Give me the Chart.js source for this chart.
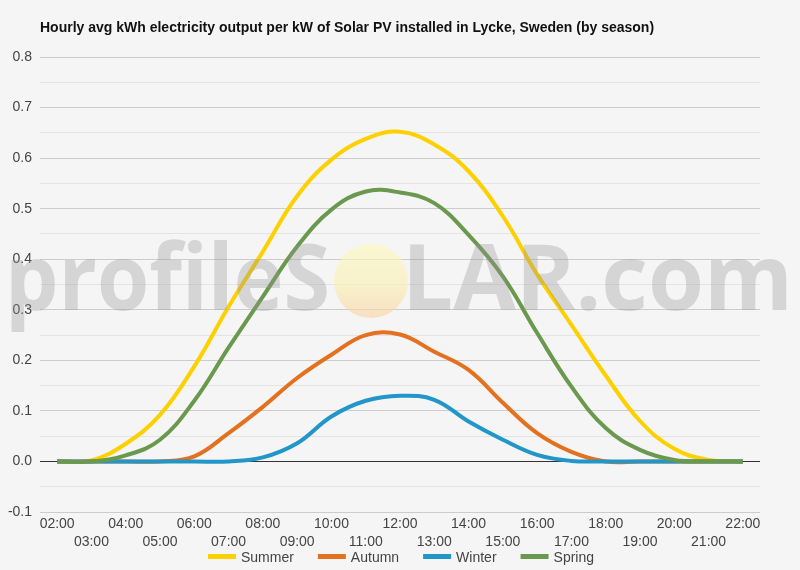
<!DOCTYPE html>
<html>
<head>
<meta charset="utf-8">
<script src="https://cdn.jsdelivr.net/npm/chart.js@4/dist/chart.umd.min.js"></script>
<style>
html,body{margin:0;padding:0;background:#f5f5f5;}
#wrap{width:800px;height:570px;}
</style>
</head>
<body>
<div id="wrap"><canvas id="c" width="800" height="570"></canvas></div>
<script>
const titleText = 'Hourly avg kWh electricity output per kW of Solar PV installed in Lycke, Sweden (by season)';
const hours = ['02:00','03:00','04:00','05:00','06:00','07:00','08:00','09:00','10:00','11:00','12:00','13:00','14:00','15:00','16:00','17:00','18:00','19:00','20:00','21:00','22:00'];
const seriesNames = ['Summer','Autumn','Winter','Spring'];
const seriesColors = ['#fdd000','#e4711f','#2196c8','#6a994e'];
const summer = [0, 0.002, 0.035, 0.092, 0.188, 0.306, 0.415, 0.525, 0.597, 0.638, 0.652, 0.627, 0.574, 0.485, 0.37, 0.27, 0.17, 0.08, 0.025, 0.003, 0];
const autumn = [0, 0, 0, 0, 0.01, 0.056, 0.108, 0.165, 0.211, 0.25, 0.251, 0.217, 0.181, 0.116, 0.056, 0.019, 0, 0, 0, 0, 0];
const winter = [0, 0, 0, 0, 0, 0, 0.008, 0.036, 0.089, 0.12, 0.13, 0.122, 0.079, 0.043, 0.013, 0.001, 0, 0, 0, 0, 0];
const spring = [0, 0, 0.012, 0.043, 0.12, 0.225, 0.326, 0.425, 0.498, 0.534, 0.532, 0.511, 0.448, 0.366, 0.254, 0.148, 0.066, 0.023, 0.003, 0, 0];
const yMin = -0.1, yMax = 0.8, yStep = 0.05;
const watermarkLeft = 'profileS', watermarkRight = 'LAR.com';

const seriesData = [summer, autumn, winter, spring];
const drawOrder = [4, 3, 2, 1];

const bgPlugin = {
  id: 'bg',
  beforeDraw(chart) {
    const ctx = chart.ctx;
    ctx.save();
    ctx.fillStyle = '#f5f5f5';
    ctx.fillRect(0, 0, chart.width, chart.height);
    ctx.restore();
  }
};

const titlePlugin = {
  id: 'customTitle',
  afterDraw(chart) {
    const ctx = chart.ctx;
    ctx.save();
    ctx.font = 'bold 14px "Liberation Sans", Arial, sans-serif';
    ctx.fillStyle = '#111';
    ctx.textBaseline = 'middle';
    ctx.textAlign = 'left';
    ctx.fillText(titleText, chart.chartArea.left, 28);
    ctx.restore();
  }
};

const watermarkPlugin = {
  id: 'watermark',
  afterDatasetsDraw(chart) {
    const ctx = chart.ctx;
    ctx.save();
    ctx.font = 'bold 92px "Open Sans", sans-serif';
    ctx.textBaseline = 'alphabetic';
    ctx.fillStyle = 'rgba(150,150,150,0.33)';
    const baseY = 310;
    let w = ctx.measureText(watermarkLeft).width;
    ctx.save();
    ctx.translate(5, baseY);
    ctx.scale(325 / w, 1);
    ctx.fillText(watermarkLeft, 0, 0);
    ctx.restore();
    w = ctx.measureText(watermarkRight).width;
    ctx.save();
    ctx.translate(402, baseY);
    ctx.scale(391 / w, 1);
    ctx.fillText(watermarkRight, 0, 0);
    ctx.restore();
    const g = ctx.createLinearGradient(0, 243, 0, 318);
    g.addColorStop(0, 'rgba(252,248,190,0.65)');
    g.addColorStop(0.55, 'rgba(250,240,180,0.65)');
    g.addColorStop(1, 'rgba(248,210,160,0.6)');
    ctx.fillStyle = g;
    ctx.beginPath();
    ctx.arc(371, 281, 37, 0, Math.PI * 2);
    ctx.fill();
    ctx.restore();
  }
};

const legendPlugin = {
  id: 'customLegend',
  afterDraw(chart) {
    const ctx = chart.ctx;
    ctx.save();
    ctx.font = '14px "Liberation Sans", Arial, sans-serif';
    const sw = 28, gapText = 5, gapItem = 24;
    const items = chart.data.datasets.map(d => ({label: d.label, color: d.borderColor, tw: ctx.measureText(d.label).width}));
    let total = 0;
    items.forEach((it, i) => { total += sw + gapText + it.tw + (i < items.length - 1 ? gapItem : 0); });
    let x = (chart.width - total) / 2 + 1;
    const y = 557;
    items.forEach(it => {
      ctx.fillStyle = it.color;
      ctx.fillRect(x, y - 3, sw, 5);
      ctx.fillStyle = '#444';
      ctx.textBaseline = 'middle';
      ctx.textAlign = 'left';
      ctx.fillText(it.label, x + sw + gapText, y + 1);
      x += sw + gapText + it.tw + gapItem;
    });
    ctx.restore();
  }
};

const isMajor = v => Math.abs(v * 10 - Math.round(v * 10)) < 1e-6;

new Chart(document.getElementById('c'), {
  type: 'line',
  data: {
    labels: hours,
    datasets: seriesNames.map((name, i) => ({
      label: name,
      data: seriesData[i],
      borderColor: seriesColors[i],
      backgroundColor: seriesColors[i],
      borderWidth: 4,
      pointRadius: 0,
      pointHoverRadius: 0,
      tension: 0.4,
      fill: false,
      order: drawOrder[i]
    }))
  },
  options: {
    responsive: false,
    animation: false,
    devicePixelRatio: 1,
    layout: { padding: { top: 57, bottom: 16, right: 40, left: 0 } },
    plugins: {
      legend: { display: false },
      title: { display: false },
      tooltip: { enabled: false }
    },
    scales: {
      x: {
        type: 'category',
        offset: true,
        grid: { display: false, drawTicks: false },
        border: { display: false },
        ticks: {
          autoSkip: false,
          maxRotation: 0,
          minRotation: 0,
          padding: 3,
          color: '#444',
          font: { family: '"Liberation Sans", Arial, sans-serif', size: 14, lineHeight: 18 / 14 },
          callback: function (value, index) {
            const lab = this.getLabelForValue(value);
            return index % 2 === 0 ? lab : ['', lab];
          }
        }
      },
      y: {
        min: yMin,
        max: yMax,
        afterFit(scale) { scale.width = 40; },
        grid: {
          drawTicks: false,
          lineWidth: 1,
          color: ctx => {
            const v = ctx.tick.value;
            if (Math.abs(v) < 1e-9) return '#333333';
            return isMajor(v) ? '#cccccc' : '#e4e4e4';
          }
        },
        border: { display: false },
        ticks: {
          stepSize: yStep,
          padding: 8,
          color: '#444',
          font: { family: '"Liberation Sans", Arial, sans-serif', size: 14 },
          callback: v => isMajor(v) ? (Math.round(v * 10) / 10).toFixed(1) : ''
        }
      }
    }
  },
  plugins: [bgPlugin, watermarkPlugin, titlePlugin, legendPlugin]
});
</script>
</body>
</html>
